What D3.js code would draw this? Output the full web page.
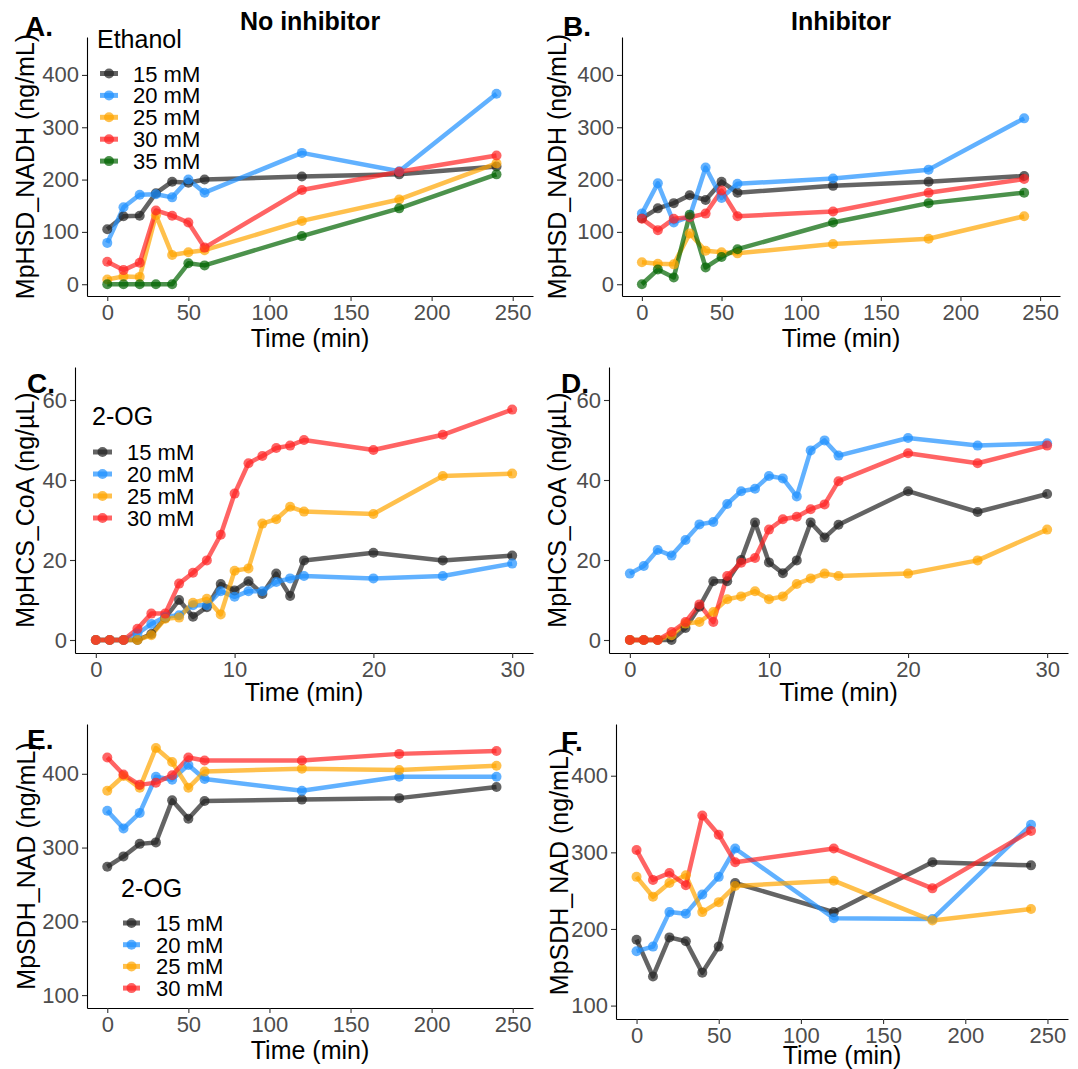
<!DOCTYPE html>
<html>
<head>
<meta charset="utf-8">
<script src="https://cdn.jsdelivr.net/npm/d3@7"></script>
<style>
  body { margin: 0; background: #fff; }
  svg { font-family: "Liberation Sans", Arial, sans-serif; }
</style>
</head>
<body>
<div id="chart"></div>
<script>
// time points (min)
const timeLong = [0, 10, 20, 30, 40, 50, 60, 120, 180, 240];
const timeShort = [0, 1, 2, 3, 4, 5, 6, 7, 8, 9, 10, 11, 12, 13, 14, 15, 20, 25, 30];

const ethanolLabels = ["15 mM", "20 mM", "25 mM", "30 mM", "35 mM"];
const ogLabels = ["15 mM", "20 mM", "25 mM", "30 mM"];

// A. MpHSD_NADH, no inhibitor (15, 20, 25, 30, 35 mM)
const hsdNoInhibitor = [
  [105, 130, 131, 174, 196, 194, 200, 206, 210, 225],
  [79, 147, 171, 172, 166, 200, 175, 251, 216, 364],
  [9, 15, 14, 132, 56, 61, 65, 121, 162, 231],
  [43, 27, 41, 141, 131, 118, 70, 180, 215, 246],
  [0, 0, 0, 0, 0, 40, 36, 92, 145, 210]
];
// B. MpHSD_NADH, inhibitor
const hsdInhibitor = [
  [126, 145, 155, 170, 161, 196, 175, 188, 196, 207],
  [135, 193, 118, 129, 223, 165, 192, 202, 219, 317],
  [42, 39, 38, 97, 64, 61, 59, 77, 87, 130],
  [125, 103, 125, 128, 135, 179, 130, 139, 175, 201],
  [0, 28, 13, 133, 32, 52, 67, 118, 155, 175]
];
// C. MpHCS_CoA, no inhibitor (15, 20, 25, 30 mM)
const hcsNoInhibitor = [
  [0, 0, 0, 0, 1.5, 5.5, 10, 5.8, 8.2, 14, 12.4, 14.7, 11.5, 16.6, 11, 19.9, 21.8, 19.9, 21.1],
  [0, 0, 0, 1.6, 4, 5.8, 6.2, 8.7, 8.7, 12.2, 10.8, 12.2, 12.2, 14.5, 15.4, 16, 15.4, 16, 19.1],
  [0, 0, 0, 0, 1.2, 5.3, 5.6, 9.3, 10.3, 6.4, 17.3, 17.9, 29.1, 30.2, 33.3, 32.1, 31.5, 41, 41.6],
  [0, 0, 0, 2.8, 6.6, 6.6, 14.1, 16.8, 19.9, 26.3, 36.6, 44.2, 46, 48, 48.6, 50, 47.5, 51.3, 57.6]
];
// D. MpHCS_CoA, inhibitor
const hcsInhibitor = [
  [0, 0, 0, 0, 3, 8.3, 14.7, 14.7, 20, 29.4, 19.4, 16.7, 19.9, 29.4, 25.6, 28.8, 37.2, 32, 36.5],
  [16.6, 18.5, 22.5, 21.1, 25, 28.9, 29.5, 34, 37.2, 37.8, 41, 40.4, 35.9, 47.4, 49.9, 46.1, 50.5, 48.6, 49.2],
  [0, 0, 0, 1.2, 4.1, 4.5, 7, 10.2, 10.9, 12.2, 10.2, 10.9, 14, 15.4, 16.6, 16, 16.6, 19.9, 27.6],
  [0, 0, 0, 2, 4.5, 8.9, 4.5, 16, 19.3, 20.5, 27.6, 30.2, 30.8, 32.7, 33.9, 39.7, 46.7, 44.2, 48.6]
];
// E. MpSDH_NAD, no inhibitor
const sdhNoInhibitor = [
  [274, 288, 305, 307, 364, 339, 363, 365, 367, 382],
  [350, 326, 347, 396, 392, 412, 393, 377, 396, 396],
  [377, 397, 381, 435, 416, 381, 403, 407, 405, 411],
  [422, 399, 385, 388, 398, 422, 418, 418, 427, 431]
];
// F. MpSDH_NAD, inhibitor
const sdhInhibitor = [
  [186, 138, 189, 184, 143, 177, 260, 222, 287, 283],
  [171, 177, 222, 220, 245, 268, 305, 214, 213, 336],
  [268, 242, 260, 270, 222, 235, 256, 263, 211, 226],
  [303, 264, 273, 257, 348, 323, 287, 305, 253, 328]
];

const longTicks = [0, 50, 100, 150, 200, 250];
const shortTicks = [0, 10, 20, 30];
const hsdTicks = [0, 100, 200, 300, 400];
const hcsTicks = [0, 20, 40, 60];
const sdhTicks = [100, 200, 300, 400];

const colors = ["#222222", "#1E90FF", "#FFA500", "#FF2222", "#006400"];

const W = 1078, H = 1069;
const svg = d3.select("#chart").append("svg")
  .attr("width", W).attr("height", H);

const panels = [
  { tag: "A.", tagX: 25, tagY: 36, data: hsdNoInhibitor, t: timeLong, labels: ethanolLabels,
    xDom: [-12.5, 262.5], xTicks: longTicks, yDom: [-22.5, 472.5], yTicks: hsdTicks,
    left: 87, right: 533, top: 37, bottom: 296, ylab: "MpHSD_NADH (ng/mL)", ylabX: 34, xlabY: 347,
    title: "No inhibitor", legend: { title: "Ethanol", tx: 97, ty: 48, y0: 73.5, dy: 21.9, k1: 100, k2: 118, lx: 133 } },
  { tag: "B.", tagX: 563, tagY: 36, data: hsdInhibitor, t: timeLong, labels: ethanolLabels,
    xDom: [-12.5, 262.5], xTicks: longTicks, yDom: [-22.5, 472.5], yTicks: hsdTicks,
    left: 622, right: 1060, top: 37, bottom: 296, ylab: "MpHSD_NADH (ng/mL)", ylabX: 566, xlabY: 347,
    title: "Inhibitor" },
  { tag: "C.", tagX: 27, tagY: 393, data: hcsNoInhibitor, t: timeShort, labels: ogLabels,
    xDom: [-1.5, 31.5], xTicks: shortTicks, yDom: [-3.25, 68.25], yTicks: hcsTicks,
    left: 75, right: 533, top: 367, bottom: 653, ylab: "MpHCS_CoA (ng/\u00b5L)", ylabX: 34, xlabY: 701,
    legend: { title: "2-OG", tx: 92, ty: 425, y0: 452, dy: 22, k1: 93, k2: 112, lx: 127 } },
  { tag: "D.", tagX: 561, tagY: 393, data: hcsInhibitor, t: timeShort, labels: ogLabels,
    xDom: [-1.5, 31.5], xTicks: shortTicks, yDom: [-3.25, 68.25], yTicks: hcsTicks,
    left: 609, right: 1068, top: 367, bottom: 653, ylab: "MpHCS_CoA (ng/\u00b5L)", ylabX: 566, xlabY: 701 },
  { tag: "E.", tagX: 27, tagY: 749, data: sdhNoInhibitor, t: timeLong, labels: ogLabels,
    xDom: [-12.5, 262.5], xTicks: longTicks, yDom: [82.5, 467.5], yTicks: sdhTicks,
    left: 87, right: 533, top: 724, bottom: 1008, ylab: "MpSDH_NAD (ng/mL)", ylabX: 35, xlabY: 1059,
    legend: { title: "2-OG", tx: 121, ty: 897, y0: 923, dy: 21.7, k1: 123, k2: 140, lx: 156 } },
  { tag: "F.", tagX: 561, tagY: 751, data: sdhInhibitor, t: timeLong, labels: ogLabels,
    xDom: [-12.5, 262.5], xTicks: longTicks, yDom: [82.5, 467.5], yTicks: sdhTicks,
    left: 616, right: 1068, top: 724, bottom: 1019, ylab: "MpSDH_NAD (ng/mL)", ylabX: 568, xlabY: 1064 }
];

panels.forEach(p => {
  const x = d3.scaleLinear().domain(p.xDom).range([p.left, p.right]);
  const y = d3.scaleLinear().domain(p.yDom).range([p.bottom, p.top]);
  const g = svg.append("g");

  // axes
  const xAxis = g.append("g")
    .attr("transform", `translate(0,${p.bottom})`)
    .call(d3.axisBottom(x).tickValues(p.xTicks).tickSize(5).tickSizeOuter(0).tickPadding(3).tickFormat(d3.format("d")));
  const yAxis = g.append("g")
    .attr("transform", `translate(${p.left},0)`)
    .call(d3.axisLeft(y).tickValues(p.yTicks).tickSize(5).tickSizeOuter(0).tickPadding(3).tickFormat(d3.format("d")));
  [xAxis, yAxis].forEach(a => {
    a.select(".domain").attr("stroke", "#000").attr("stroke-width", 1.1);
    a.selectAll(".tick line").attr("stroke", "#333").attr("stroke-width", 1.1);
    a.selectAll(".tick text").attr("fill", "#4D4D4D").style("font-size", "22px");
  });
  xAxis.selectAll(".tick text").attr("dy", "0.71em");

  // lines first, then points
  const line = d3.line().x((d, i) => x(p.t[i])).y(d => y(d));
  p.data.forEach((s, k) => {
    g.append("path").datum(s)
      .attr("d", line)
      .attr("fill", "none")
      .attr("stroke", colors[k])
      .attr("stroke-opacity", 0.7)
      .attr("stroke-width", 4.5)
      .attr("stroke-linejoin", "round");
  });
  p.data.forEach((s, k) => {
    g.append("g").selectAll("circle")
      .data(s)
      .enter().append("circle")
      .attr("cx", (d, i) => x(p.t[i]))
      .attr("cy", d => y(d))
      .attr("r", 5)
      .attr("fill", colors[k])
      .attr("fill-opacity", 0.7);
  });

  // axis titles
  g.append("text")
    .attr("x", (p.left + p.right) / 2).attr("y", p.xlabY)
    .attr("text-anchor", "middle").style("font-size", "25px")
    .text("Time (min)");
  g.append("text")
    .attr("transform", `translate(${p.ylabX},${(p.top + p.bottom) / 2}) rotate(-90)`)
    .attr("text-anchor", "middle").style("font-size", "25px")
    .text(p.ylab);

  // panel tag
  g.append("text")
    .attr("x", p.tagX).attr("y", p.tagY)
    .style("font-size", "28px").style("font-weight", "bold")
    .text(p.tag);

  if (p.title) {
    g.append("text")
      .attr("x", (p.left + p.right) / 2).attr("y", 30)
      .attr("text-anchor", "middle")
      .style("font-size", "25px").style("font-weight", "bold")
      .text(p.title);
  }

  // legend
  if (p.legend) {
    const L = p.legend;
    g.append("text").attr("x", L.tx).attr("y", L.ty)
      .style("font-size", "25px").text(L.title);
    p.labels.forEach((lab, k) => {
      const cy = L.y0 + k * L.dy;
      g.append("line")
        .attr("x1", L.k1).attr("x2", L.k2).attr("y1", cy).attr("y2", cy)
        .attr("stroke", colors[k]).attr("stroke-opacity", 0.7).attr("stroke-width", 5);
      g.append("circle")
        .attr("cx", (L.k1 + L.k2) / 2).attr("cy", cy).attr("r", 5)
        .attr("fill", colors[k]).attr("fill-opacity", 0.7);
      g.append("text").attr("x", L.lx).attr("y", cy + 8)
        .style("font-size", "22px").text(lab);
    });
  }
});
</script>
</body>
</html>
